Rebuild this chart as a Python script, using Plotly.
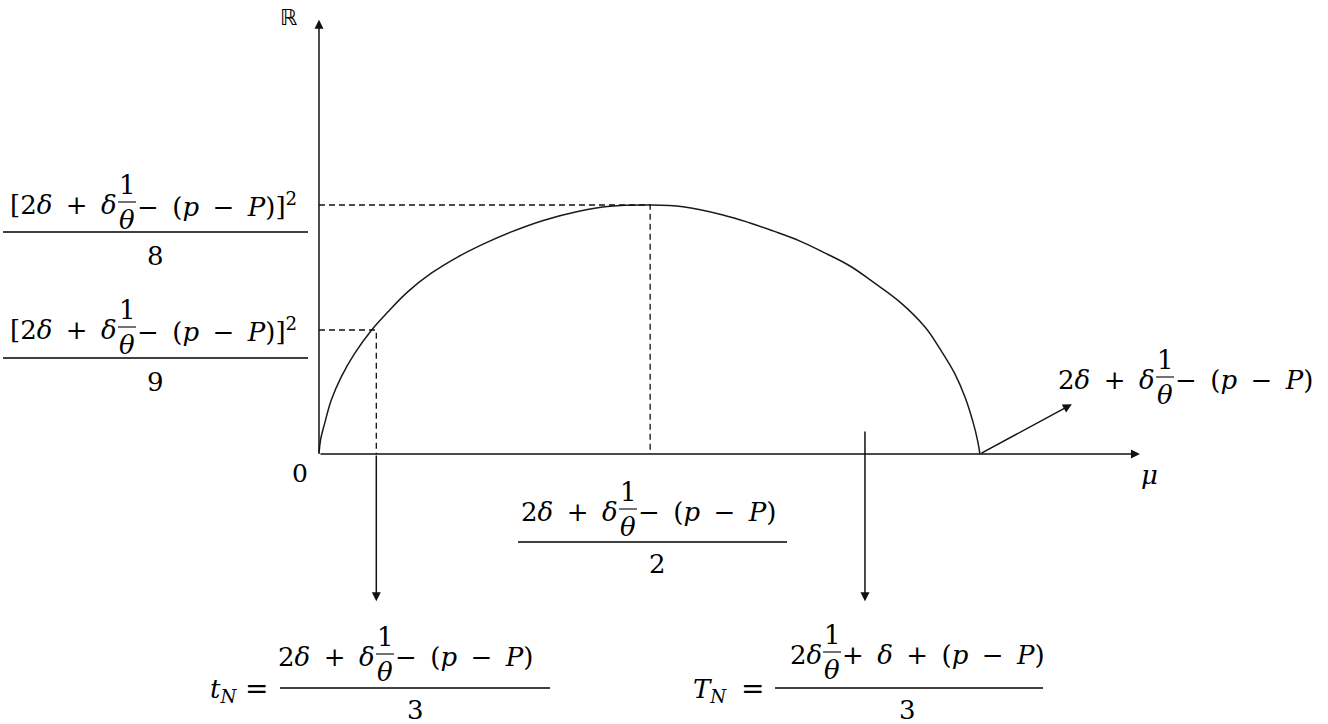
import plotly.graph_objects as go

W, H = 1328, 724
FONT = "DejaVu Serif"
FS = 26

# curve: mu as a share of 2δ+δ/θ-(p-P), height as a share of the peak
mu = [0, 0.0023, 0.0086, 0.0186, 0.0337, 0.0540, 0.0791, 0.1044, 0.1346, 0.1699, 0.2103, 0.2507,
      0.2890, 0.3393, 0.3899, 0.4402, 0.5008, 0.5507, 0.6112, 0.6520, 0.6868, 0.7277, 0.7625,
      0.8033, 0.8381, 0.8790, 0.9168, 0.9395, 0.9622, 0.9773, 0.9894, 0.9962, 1.0]
height = [0, 0.056, 0.123, 0.217, 0.310, 0.404, 0.496, 0.571, 0.652, 0.726, 0.792, 0.846,
          0.890, 0.938, 0.973, 0.995, 1.0, 0.993, 0.960, 0.928, 0.896, 0.855, 0.811,
          0.755, 0.691, 0.610, 0.510, 0.422, 0.321, 0.229, 0.129, 0.056, 0]

# marked points
t_small = [0.0867, 0.498]  # t_N and the /9 level
peak = [0.501, 1.0]        # half width and the /8 level
T_big = [0.826, 0.096]     # T_N marker
root = [1.0, 0.0]
arrow_low = -0.591         # where the down arrows end
x_tip, y_tip = 1.242, 1.744
diag_tip = [1.139, 0.2]

fig = go.Figure()

# the curve
fig.add_trace(go.Scatter(x=mu, y=height, mode="lines",
                         line=dict(color="#1a1a1a", width=1.5, shape="spline", smoothing=1.1),
                         hoverinfo="skip"))
# dashed guides
dash = dict(color="#111", width=1.3, dash="6px,4px")
fig.add_trace(go.Scatter(x=[0, peak[0], peak[0]], y=[peak[1], peak[1], 0], mode="lines",
                         line=dash, hoverinfo="skip"))
fig.add_trace(go.Scatter(x=[0, t_small[0], t_small[0]], y=[t_small[1], t_small[1], 0], mode="lines",
                         line=dash, hoverinfo="skip"))


def arrow(x0, y0, x1, y1):
    fig.add_annotation(x=x1, y=y1, ax=x0, ay=y0, xref="x", yref="y", axref="x", ayref="y", text="",
                       showarrow=True, arrowhead=2, arrowsize=1.2, arrowwidth=1.5, arrowcolor="#111", standoff=0)


arrow(0, 0, x_tip, 0)
arrow(0, 0, 0, y_tip)
arrow(t_small[0], 0, t_small[0], arrow_low)
arrow(T_big[0], T_big[1], T_big[0], arrow_low)
arrow(root[0], root[1], diag_tip[0], diag_tip[1])


def text(x, y, s, size=FS, xanchor="center", family=FONT):
    fig.add_annotation(x=x / W, y=1 - y / H, xref="paper", yref="paper", text=s, showarrow=False,
                       xanchor=xanchor, yanchor="middle", font=dict(family=family, size=size, color="black"))


def hline(x0, x1, y, width=1.3):
    fig.add_shape(type="line", xref="paper", yref="paper", x0=x0 / W, x1=x1 / W, y0=1 - y / H, y1=1 - y / H,
                  line=dict(color="black", width=width))


def expr(left, right, xf, ym):
    # left part, small stacked 1/θ, right part
    text(xf - 8, ym, left, xanchor="right")
    text(xf, ym - 20, "1")
    text(xf, ym + 15, "<i>θ</i>")
    hline(xf - 9, xf + 9, ym - 3, 1.1)
    text(xf + 8, ym, right, xanchor="left")


S = " \u2009"
A = "2<i>δ</i>" + S + "+" + S + "<i>δ</i>"
B = "−" + S + "(<i>p</i>" + S + "−" + S + "<i>P</i>)"

# y labels
expr("[" + A, B + "]<sup>2</sup>", 127, 205)
hline(3, 308, 232)
text(155, 256, "8")
expr("[" + A, B + "]<sup>2</sup>", 127, 330)
hline(3, 308, 358)
text(155, 382, "9")

# half width under the axis
expr(A, B, 628, 512)
hline(518, 787, 542)
text(657, 564, "2")

# t_N
expr(A, B, 385, 657)
hline(280, 550, 688)
text(415, 710, "3")
text(223, 690, "<i>t</i><sub><i>N</i></sub>")
text(256, 688, "=", size=28)

# T_N
expr("2<i>δ</i>", "+" + S + "<i>δ</i>" + S + "+" + S + "(<i>p</i>" + S + "−" + S + "<i>P</i>)", 832, 655)
hline(775, 1043, 688)
text(908, 710, "3")
text(710, 690, "<i>T</i><sub><i>N</i></sub>")
text(752, 688, "=", size=28)

# root label
expr(A, B, 1165, 380)

text(300, 473, "0", size=25)
text(1149, 475, "<i>μ</i>", size=26)
text(288, 18, "ℝ", size=22, family="DejaVu Sans")

fig.update_xaxes(range=[-0.4826, 1.5265], visible=False, fixedrange=True)
fig.update_yaxes(range=[-1.0843, 1.8233], visible=False, fixedrange=True)
fig.update_layout(width=W, height=H, margin=dict(l=0, r=0, t=0, b=0), showlegend=False,
                  plot_bgcolor="white", paper_bgcolor="white")

fig.write_html("out.html", config={"displayModeBar": False},
               post_script="document.body.style.margin='0';document.body.style.overflow='hidden';")
